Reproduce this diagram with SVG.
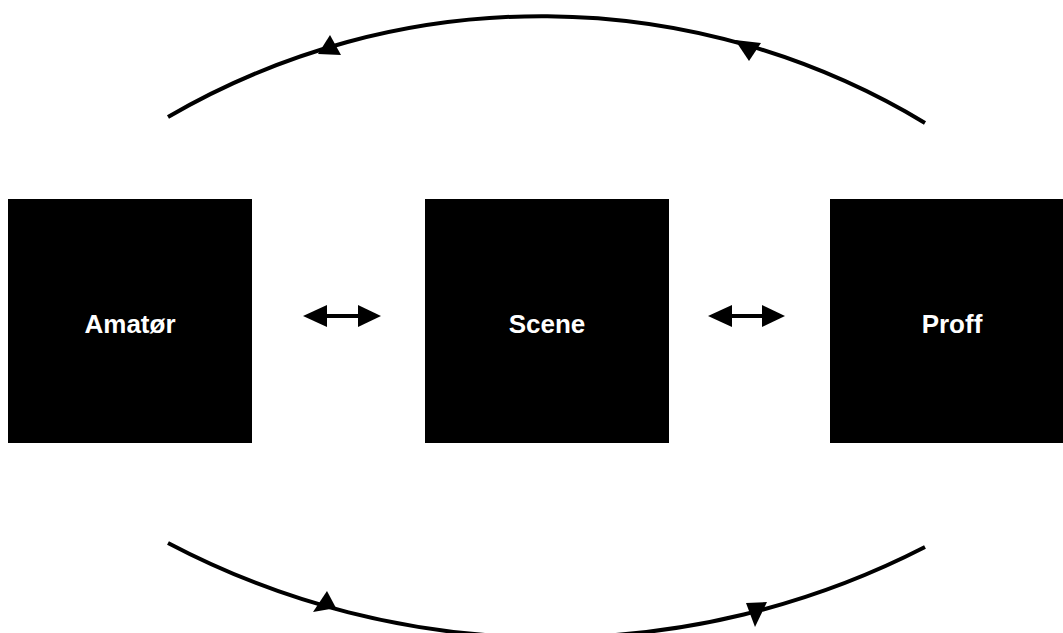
<svg xmlns="http://www.w3.org/2000/svg" width="1063" height="633" viewBox="0 0 1063 633">
<style>
.box{fill:#000}
.lbl{fill:#fff;font-family:"Liberation Sans",Arial,sans-serif;font-weight:bold;font-size:26px;text-anchor:middle}
.ln{fill:none;stroke:#000;stroke-width:4}
.hd{fill:#000}
</style>
<rect width="1063" height="633" fill="#fff"/>
<g id="amator"><rect class="box" x="8" y="199" width="244" height="244"/><text class="lbl" x="130" y="333">Amatør</text></g>
<g id="scene"><rect class="box" x="425" y="199" width="244" height="244"/><text class="lbl" x="547" y="333">Scene</text></g>
<g id="proff"><rect class="box" x="830" y="199" width="244" height="244"/><text class="lbl" x="952" y="333">Proff</text></g>
<g id="connectors">
<path class="ln" d="M168 117 A742 742 0 0 1 925 123"/>
<path class="ln" d="M168 543 A820 820 0 0 0 925 547"/>
<polygon class="hd" points="330,35 318,54 341,55"/>
<polygon class="hd" points="735,40 761,43 749,61"/>
<polygon class="hd" points="327,591 313,612 336,608"/>
<polygon class="hd" points="746,603 767,602 755,627"/>
<line class="ln" x1="320" y1="316" x2="364" y2="316"/>
<polygon class="hd" points="303,316 327,305 327,327"/>
<polygon class="hd" points="381,316 358,305 358,327"/>
<line class="ln" x1="725" y1="316" x2="768" y2="316"/>
<polygon class="hd" points="708,316 732,305 732,327"/>
<polygon class="hd" points="785,316 762,305 762,327"/>
</g>
</svg>
